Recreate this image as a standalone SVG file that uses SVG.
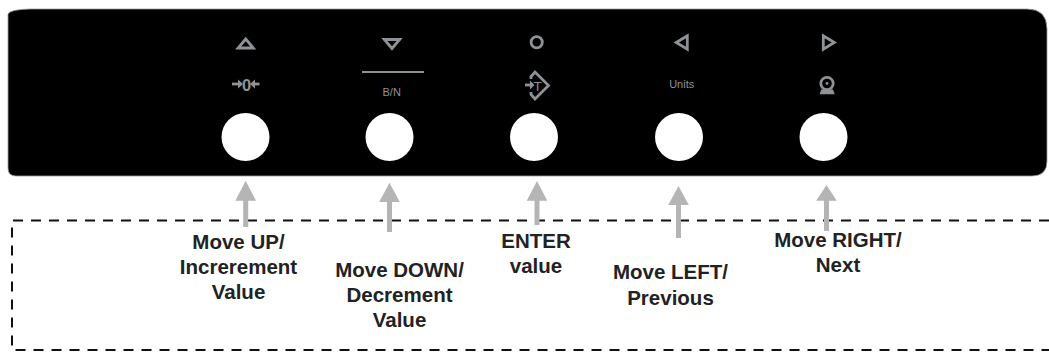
<svg xmlns="http://www.w3.org/2000/svg" width="1049" height="359" viewBox="0 0 1049 359">
<style>
.ic{fill:none;stroke:#8e9296;stroke-width:2.8;stroke-linejoin:miter}
.icf{fill:#8e9296}
.small{font-family:"Liberation Sans",Arial,sans-serif;font-size:11px;fill:#8e9296;text-anchor:middle}
.lbl{font-family:"Liberation Sans",Arial,sans-serif;font-size:20.5px;font-weight:bold;fill:#222;text-anchor:middle}
.btn{fill:#fff}
.arr{fill:#b5b5b5}
.dash{fill:none;stroke:#111;stroke-width:2;stroke-dasharray:10 8}
</style>
<rect width="1049" height="359" fill="#fff"/>
<g id="panel">
<path d="M8,14 Q10,9.5 30,9 L1027,9 Q1047,9 1047,29 L1047,161 Q1047,176 1032,176 L16,176 Q8,176 8,168 Z" fill="#000" stroke="#9a9a9a" stroke-width="0.8"/>
</g>
<g id="dashed-box">
<path class="dash" d="M1049,220.5 L12,220.5 L12,350 L1049,350"/>
</g>
<g id="btn-up">
<polygon class="ic" points="245.7,39 253.3,48 238.1,48"/>
<path class="ic" d="M232,84 L240,84" stroke-width="2.2"/>
<polygon class="icf" points="243,84 238,79.5 238,88.5"/>
<text x="246.5" y="90.5" font-family="Liberation Sans,Arial,sans-serif" font-size="16.5" font-weight="bold" fill="#8e9296" text-anchor="middle">0</text>
<path class="ic" d="M259.5,84 L252.5,84" stroke-width="2.2"/>
<polygon class="icf" points="250,84 255,79.5 255,88.5"/>
<circle class="btn" cx="245.5" cy="137" r="24"/>
</g>
<g id="btn-down">
<polygon class="ic" points="392,48.5 384.3,39.5 399.7,39.5"/>
<path d="M362,72 L424,72" stroke="#8e9296" stroke-width="2"/>
<text class="small" x="391.7" y="96">B/N</text>
<circle class="btn" cx="389.5" cy="137" r="24"/>
</g>
<g id="btn-enter">
<circle class="ic" cx="536.7" cy="42.3" r="5.6"/>
<path class="ic" d="M531,79 L531,76.5 L535,72 L548.5,85.5 L535,99 L531,94.5 L531,92" stroke-width="2.5"/>
<path class="ic" d="M525,85 L531,85" stroke-width="2.2"/>
<polygon class="icf" points="534.5,85 530,80.5 530,89.5"/>
<text x="537.5" y="90.5" font-family="Liberation Sans,Arial,sans-serif" font-size="13.5" fill="#8e9296" text-anchor="middle">T</text>
<circle class="btn" cx="534" cy="137" r="24"/>
</g>
<g id="btn-left">
<polygon class="ic" points="676.3,42.5 687.3,35.8 687.3,49.2"/>
<text class="small" x="681.7" y="87.7" font-size="11.5">Units</text>
<circle class="btn" cx="679" cy="137" r="24"/>
</g>
<g id="btn-right">
<polygon class="ic" points="834.3,42.5 823.3,35.8 823.3,49.2"/>
<circle class="ic" cx="827" cy="83.5" r="6.2" stroke-width="2.6"/>
<circle class="icf" cx="827" cy="83.5" r="1.4"/>
<path class="icf" d="M819.5,94.2 L834.8,94.2 L833,89.5 L821.3,89.5 Z"/>
<circle class="btn" cx="823.5" cy="137" r="24"/>
</g>
<g id="connectors">
<g class="arr">
<polygon points="245.7,180.7 256,200.7 235.4,200.7"/><rect x="243.2" y="200" width="5" height="27"/>
<polygon points="389.5,182.7 399.8,202 379.2,202"/><rect x="387" y="201" width="5" height="31"/>
<polygon points="537,181 547.3,200.7 526.7,200.7"/><rect x="534.5" y="200" width="5" height="25"/>
<polygon points="678.5,186 688.8,205 668.2,205"/><rect x="676" y="204" width="5" height="34"/>
<polygon points="826.5,185 836.8,200.7 816.2,200.7"/><rect x="824" y="200" width="5" height="31"/>
</g>
</g>
<g id="label-up"><text class="lbl"><tspan x="238.5" y="249">Move UP/</tspan><tspan x="238.5" y="274.3">Increrement</tspan><tspan x="238.5" y="299">Value</tspan></text></g>
<g id="label-down"><text class="lbl"><tspan x="399.5" y="276.7">Move DOWN/</tspan><tspan x="399.5" y="301.7">Decrement</tspan><tspan x="399.5" y="326.7">Value</tspan></text></g>
<g id="label-enter"><text class="lbl"><tspan x="536" y="247.7">ENTER</tspan><tspan x="536" y="273">value</tspan></text></g>
<g id="label-left"><text class="lbl"><tspan x="670.5" y="279">Move LEFT/</tspan><tspan x="670.5" y="304.5">Previous</tspan></text></g>
<g id="label-right"><text class="lbl"><tspan x="838" y="247.3">Move RIGHT/</tspan><tspan x="838" y="272">Next</tspan></text></g>
</svg>
